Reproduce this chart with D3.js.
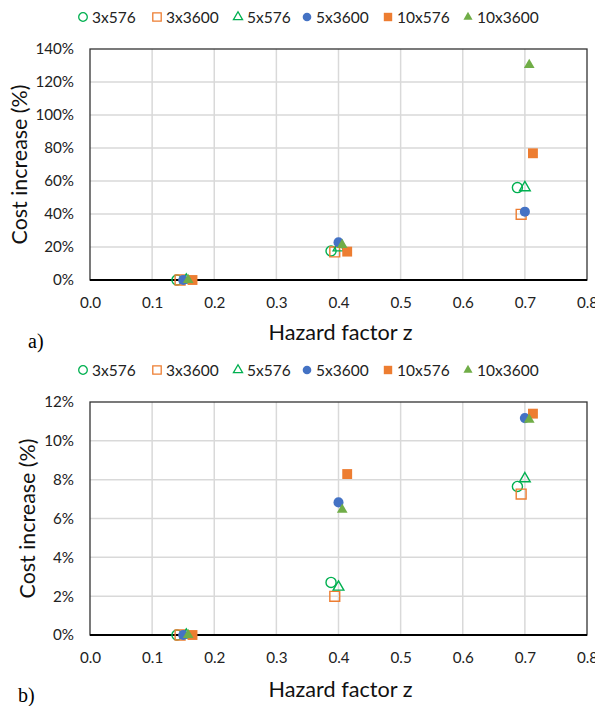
<!DOCTYPE html>
<html>
<head>
<meta charset="utf-8">
<script src="https://cdn.jsdelivr.net/npm/d3@7"></script>
<style>
  body { margin: 0; background: #fff; }
  svg { display: block; }
</style>
</head>
<body>
<div id="chart"></div>
<script>
// series names and their hazard factor z (same for both panels)
const seriesNames = ['3x576', '3x3600', '5x576', '5x3600', '10x576', '10x3600']
const zValues = [
    [0.140, 0.388, 0.688],
    [0.145, 0.394, 0.694],
    [0.155, 0.400, 0.700],
    [0.150, 0.400, 0.700],
    [0.165, 0.414, 0.713],
    [0.158, 0.406, 0.707]
]
// panel a) cost increase
const costA = [
    [0, 0.176, 0.560],
    [0, 0.170, 0.398],
    [0, 0.195, 0.560],
    [0, 0.228, 0.414],
    [0, 0.172, 0.768],
    [0, 0.212, 1.303]
]
// panel b) cost increase
const costB = [
    [0, 0.0271, 0.0765],
    [0, 0.0199, 0.0726],
    [0, 0.0247, 0.0805],
    [0, 0.0683, 0.1117],
    [0, 0.0829, 0.1140],
    [0, 0.0645, 0.1109]
]
const xTicks = [0, 0.1, 0.2, 0.3, 0.4, 0.5, 0.6, 0.7, 0.8]
const yTicksA = [0, 0.2, 0.4, 0.6, 0.8, 1.0, 1.2, 1.4]
const yTicksB = [0, 0.02, 0.04, 0.06, 0.08, 0.10, 0.12]

const markers = [
    { shape: d3.symbolCircle, color: '#00B050', filled: false },
    { shape: d3.symbolSquare, color: '#ED7D31', filled: false },
    { shape: d3.symbolTriangle, color: '#00B050', filled: false },
    { shape: d3.symbolCircle, color: '#4472C4', filled: true },
    { shape: d3.symbolSquare, color: '#ED7D31', filled: true },
    { shape: d3.symbolTriangle, color: '#70AD47', filled: true }
]

const font = 'Lato, "Open Sans", sans-serif'

const svg = d3.select('#chart')
    .append('svg')
    .attr('width', 595)
    .attr('height', 706)

// scale font-size so a text gets the wanted width
function fit(sel, target) {
    const w = sel.node().getComputedTextLength()
    const fs = parseFloat(sel.style('font-size'))
    sel.style('font-size', (fs * target / w) + 'px')
}

function symbolPath(m, size) {
    let area = size
    if (m.shape === d3.symbolTriangle) area = size * 0.62
    if (m.shape === d3.symbolSquare) area = size * 1.22
    return d3.symbol().type(m.shape).size(area)()
}

function drawPanel(cfg) {
    const xScale = d3.scaleLinear().domain([0, 0.8]).range([90, 587])
    const yScale = d3.scaleLinear().domain([0, cfg.yMax]).range([cfg.bottom, cfg.top])

    const g = svg.append('g')

    // grid
    g.append('g').selectAll('line')
        .data(xTicks.slice(1, -1))
        .join('line')
        .attr('x1', d => xScale(d)).attr('x2', d => xScale(d))
        .attr('y1', cfg.top).attr('y2', cfg.bottom)
        .attr('stroke', '#d9d9d9').attr('stroke-width', 1.5)
    g.append('g').selectAll('line')
        .data(cfg.yTicks.slice(1, -1))
        .join('line')
        .attr('y1', d => yScale(d)).attr('y2', d => yScale(d))
        .attr('x1', xScale(0)).attr('x2', xScale(0.8))
        .attr('stroke', '#d9d9d9').attr('stroke-width', 1.5)

    // frame
    g.append('rect')
        .attr('x', xScale(0)).attr('y', cfg.top)
        .attr('width', xScale(0.8) - xScale(0))
        .attr('height', cfg.bottom - cfg.top)
        .attr('fill', 'none')
        .attr('stroke', '#333').attr('stroke-width', 1.3)
    g.append('line')
        .attr('x1', xScale(0)).attr('x2', xScale(0.8))
        .attr('y1', cfg.bottom).attr('y2', cfg.bottom)
        .attr('stroke', '#000').attr('stroke-width', 1.8)

    // axes with d3, then restyle
    const xAxis = d3.axisBottom(xScale).tickValues(xTicks).tickFormat(d3.format('.1f')).tickSize(0).tickPadding(17)
    const xg = g.append('g')
        .attr('transform', `translate(0, ${cfg.bottom})`)
        .call(xAxis)
    xg.select('.domain').remove()
    xg.selectAll('text').style('font-family', font).style('font-size', '15.2px').attr('fill', '#222')

    const yAxis = d3.axisLeft(yScale).tickValues(cfg.yTicks).tickFormat(d3.format('.0%')).tickSize(0).tickPadding(16)
    const yg = g.append('g')
        .attr('transform', `translate(${xScale(0)}, 0)`)
        .call(yAxis)
    yg.select('.domain').remove()
    yg.selectAll('text').style('font-family', font).style('font-size', '15.2px').attr('fill', '#222')

    // points
    seriesNames.forEach((name, i) => {
        const m = markers[i]
        const pts = zValues[i].map((z, j) => ({ z: z, v: cfg.values[i][j] }))
        g.append('g').selectAll('path')
            .data(pts)
            .join('path')
            .attr('d', symbolPath(m, 80))
            .attr('transform', d => `translate(${xScale(d.z)}, ${yScale(d.v)})`)
            .attr('fill', m.filled ? m.color : 'none')
            .attr('stroke', m.color)
            .attr('stroke-width', m.filled ? 0 : 1.4)
    })

    // legend
    const legX = [83, 157, 238, 307, 388, 468]
    const leg = g.append('g')
    seriesNames.forEach((name, i) => {
        const m = markers[i]
        leg.append('path')
            .attr('d', symbolPath(m, 58))
            .attr('transform', `translate(${legX[i]}, ${cfg.legendY})`)
            .attr('fill', m.filled ? m.color : 'none')
            .attr('stroke', m.color)
            .attr('stroke-width', m.filled ? 0 : 1.3)
        leg.append('text')
            .attr('x', legX[i] + 9)
            .attr('y', cfg.legendY + 5.5)
            .style('font-family', font)
            .style('font-size', '15.5px')
            .attr('fill', '#222')
            .text(name)
    })

    // titles
    const yt = g.append('text')
        .attr('transform', `translate(${cfg.yTitleX}, ${(cfg.top + cfg.bottom) / 2}) rotate(-90)`)
        .attr('text-anchor', 'middle')
        .attr('dy', '0.35em')
        .style('font-family', font)
        .style('font-size', '20px')
        .attr('fill', '#111')
        .text('Cost increase (%)')
    fit(yt, 160)

    const xt = g.append('text')
        .attr('x', (xScale(0) + xScale(0.8)) / 2 + 2)
        .attr('y', cfg.xTitleY)
        .attr('text-anchor', 'middle')
        .style('font-family', font)
        .style('font-size', '20px')
        .attr('fill', '#111')
        .text('Hazard factor z')
    fit(xt, 144)

    g.append('text')
        .attr('x', cfg.labelX)
        .attr('y', cfg.labelY)
        .style('font-family', '"Liberation Serif", serif')
        .style('font-size', '20px')
        .attr('fill', '#000')
        .text(cfg.label)
}

drawPanel({ values: costA, yMax: 1.4, yTicks: yTicksA, top: 49, bottom: 280, legendY: 17,
    yTitleX: 19, xTitleY: 340, label: 'a)', labelX: 28, labelY: 348 })
drawPanel({ values: costB, yMax: 0.12, yTicks: yTicksB, top: 402, bottom: 635, legendY: 370,
    yTitleX: 27, xTitleY: 697, label: 'b)', labelX: 18, labelY: 702 })
</script>
</body>
</html>
